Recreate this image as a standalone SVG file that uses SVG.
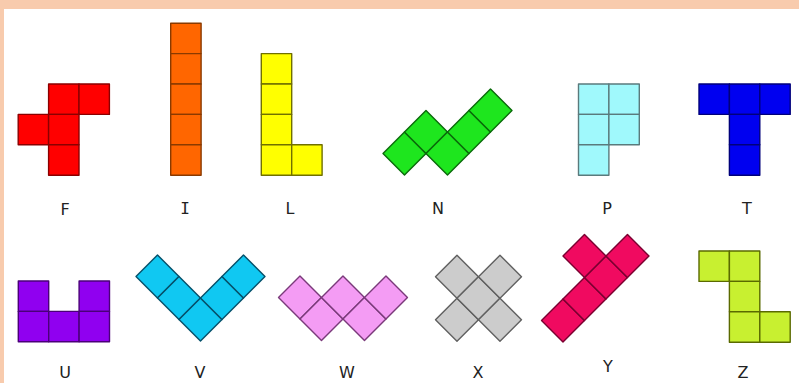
<svg xmlns="http://www.w3.org/2000/svg" width="799" height="383" viewBox="0 0 799 383">
<style>
rect.c{width:30.4px;height:30.4px;stroke-width:1.4;stroke-linejoin:round}
.F rect{fill:#ff0000;stroke:#8a0000}
.I rect{fill:#ff6600;stroke:#8a3a00}
.L rect{fill:#ffff00;stroke:#707000}
.N rect{fill:#1ee61e;stroke:#0a6a0a}
.P rect{fill:#a0f9fc;stroke:#5a7a7c}
.T rect{fill:#0000f0;stroke:#00007a}
.U rect{fill:#9000f0;stroke:#4a0078}
.V rect{fill:#10c8f2;stroke:#05506a}
.W rect{fill:#f49cf4;stroke:#7a3a7a}
.X rect{fill:#cccccc;stroke:#606060}
.Y rect{fill:#f00a60;stroke:#7a0030}
.Z rect{fill:#c8f030;stroke:#5a6a00}
text{font-family:"DejaVu Sans","Liberation Sans",sans-serif;font-size:16px;fill:#222;text-anchor:middle}
</style>
<rect x="0" y="0" width="799" height="383" fill="#f8cbad"/>
<rect x="4" y="9" width="795" height="374" fill="#ffffff"/>

<g id="F" class="F" transform="translate(18.2,84)">
<rect class="c" x="30.4" y="0"/><rect class="c" x="60.8" y="0"/><rect class="c" x="0" y="30.4"/><rect class="c" x="30.4" y="30.4"/><rect class="c" x="30.4" y="60.8"/>
</g>
<g id="I" class="I" transform="translate(170.7,23.2)">
<rect class="c" x="0" y="0"/><rect class="c" x="0" y="30.4"/><rect class="c" x="0" y="60.8"/><rect class="c" x="0" y="91.2"/><rect class="c" x="0" y="121.6"/>
</g>
<g id="L" class="L" transform="translate(261.3,53.6)">
<rect class="c" x="0" y="0"/><rect class="c" x="0" y="30.4"/><rect class="c" x="0" y="60.8"/><rect class="c" x="0" y="91.2"/><rect class="c" x="30.4" y="91.2"/>
</g>
<g id="N" class="N" transform="translate(383,153.5) rotate(-45)">
<rect class="c" x="0" y="0"/><rect class="c" x="30.4" y="0"/><rect class="c" x="30.4" y="30.4"/><rect class="c" x="60.8" y="30.4"/><rect class="c" x="91.2" y="30.4"/>
</g>
<g id="P" class="P" transform="translate(578.5,84)">
<rect class="c" x="0" y="0"/><rect class="c" x="30.4" y="0"/><rect class="c" x="0" y="30.4"/><rect class="c" x="30.4" y="30.4"/><rect class="c" x="0" y="60.8"/>
</g>
<g id="T" class="T" transform="translate(699,84)">
<rect class="c" x="0" y="0"/><rect class="c" x="30.4" y="0"/><rect class="c" x="60.8" y="0"/><rect class="c" x="30.4" y="30.4"/><rect class="c" x="30.4" y="60.8"/>
</g>
<g id="U" class="U" transform="translate(18.3,281)">
<rect class="c" x="0" y="0"/><rect class="c" x="60.8" y="0"/><rect class="c" x="0" y="30.4"/><rect class="c" x="30.4" y="30.4"/><rect class="c" x="60.8" y="30.4"/>
</g>
<g id="V" class="V" transform="translate(136,276.5) rotate(-45)">
<rect class="c" x="0" y="0"/><rect class="c" x="0" y="30.4"/><rect class="c" x="0" y="60.8"/><rect class="c" x="30.4" y="60.8"/><rect class="c" x="60.8" y="60.8"/>
</g>
<g id="W" class="W" transform="translate(278.5,297.5) rotate(-45)">
<rect class="c" x="0" y="0"/><rect class="c" x="0" y="30.4"/><rect class="c" x="30.4" y="30.4"/><rect class="c" x="30.4" y="60.8"/><rect class="c" x="60.8" y="60.8"/>
</g>
<g id="X" class="X" transform="translate(414,298.3) rotate(-45)">
<rect class="c" x="30.4" y="0"/><rect class="c" x="0" y="30.4"/><rect class="c" x="30.4" y="30.4"/><rect class="c" x="60.8" y="30.4"/><rect class="c" x="30.4" y="60.8"/>
</g>
<g id="Y" class="Y" transform="translate(541.5,320.5) rotate(-45)">
<rect class="c" x="0" y="0"/><rect class="c" x="30.4" y="0"/><rect class="c" x="60.8" y="0"/><rect class="c" x="91.2" y="0"/><rect class="c" x="60.8" y="-30.4"/>
</g>
<g id="Z" class="Z" transform="translate(699,251)">
<rect class="c" x="0" y="0"/><rect class="c" x="30.4" y="0"/><rect class="c" x="30.4" y="30.4"/><rect class="c" x="30.4" y="60.8"/><rect class="c" x="60.8" y="60.8"/>
</g>

<g id="labels">
<text x="65" y="215">F</text>
<text x="185" y="214" style="font-family:'DejaVu Sans Mono','Liberation Mono',monospace">I</text>
<text x="290" y="214">L</text>
<text x="438" y="214">N</text>
<text x="607" y="214">P</text>
<text x="747" y="214">T</text>
<text x="65" y="378">U</text>
<text x="200" y="378">V</text>
<text x="347" y="378">W</text>
<text x="478" y="378">X</text>
<text x="608" y="372">Y</text>
<text x="743" y="378">Z</text>
</g>
</svg>
